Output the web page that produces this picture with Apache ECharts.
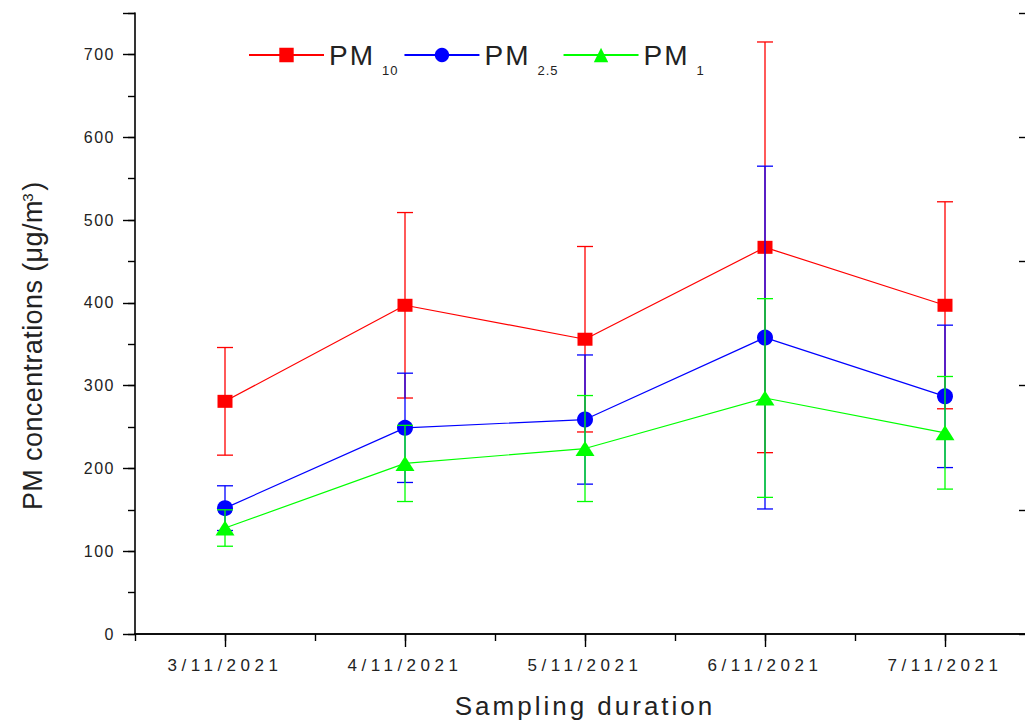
<!DOCTYPE html>
<html>
<head>
<meta charset="utf-8">
<script src="https://cdn.jsdelivr.net/npm/echarts@6/dist/echarts.min.js"></script>
<style>
html, body { margin: 0; padding: 0; background: #fff; overflow: hidden; }
#c { width: 1025px; height: 724px; }
#c text[style*="17px"] { letter-spacing: 4.5px; }
#c text[style*="16px"] { letter-spacing: 1.5px; }
#c text[style*="26px"] { letter-spacing: 3px; }
#c text[style*="28px"] { letter-spacing: 2px; }
#c text[style*="13px"] { letter-spacing: 1px; }
#c text[style*="27px"] { letter-spacing: 0.4px; }
</style>
</head>
<body>
<div id="c"></div>
<script>
// ---- data ----
const categories = ['3/11/2021', '4/11/2021', '5/11/2021', '6/11/2021', '7/11/2021'];
const seriesNames = ['PM10', 'PM2.5', 'PM1'];
const subscripts = ['10', '2.5', '1'];
const pm10 = [281, 397, 356, 467, 397];
const pm10Err = [65, 112, 112, 248, 125];
const pm25 = [152, 249, 259, 358, 287];
const pm25Err = [27, 66, 78, 207, 86];
const pm1 = [128, 206, 224, 285, 243];
const pm1Err = [22, 46, 64, 120, 68];
const yMin = 0, yMax = 750, yInterval = 100, yMinorInterval = 50, yRightInterval = 150;

const colors = ['#ff0000', '#0000ff', '#00ff00'];
const symbols = ['rect', 'circle', 'triangle'];
const symbolSizes = [[15, 13], 16, [19, 15]];
const values = [pm10, pm25, pm1];
const errors = [pm10Err, pm25Err, pm1Err];

const FONT = 'Liberation Sans';
const TXT = '#222';

function errRender(color) {
  return function (params, api) {
    const x = api.value(0);
    const lo = api.coord([x, api.value(1)]);
    const hi = api.coord([x, api.value(2)]);
    const hw = 8;
    const style = { stroke: color, lineWidth: 1.3, fill: null };
    return {
      type: 'group',
      children: [
        { type: 'line', shape: { x1: lo[0], y1: lo[1], x2: hi[0], y2: hi[1] }, style: style },
        { type: 'line', shape: { x1: lo[0] - hw, y1: lo[1], x2: lo[0] + hw, y2: lo[1] }, style: style },
        { type: 'line', shape: { x1: hi[0] - hw, y1: hi[1], x2: hi[0] + hw, y2: hi[1] }, style: style }
      ]
    };
  };
}

const series = [];
values.forEach(function (vals, k) {
  series.push({
    name: seriesNames[k] + ' err',
    type: 'custom',
    xAxisIndex: 0, yAxisIndex: 0,
    z: 2 + k * 2,
    renderItem: errRender(colors[k]),
    encode: { x: 0, y: [1, 2] },
    data: vals.map(function (v, i) { return [i, v - errors[k][i], v + errors[k][i]]; }),
    silent: true
  });
  series.push({
    name: seriesNames[k],
    type: 'line',
    xAxisIndex: 0, yAxisIndex: 0,
    z: 3 + k * 2,
    data: vals,
    symbol: symbols[k],
    symbolSize: symbolSizes[k],
    showAllSymbol: true,
    lineStyle: { color: colors[k], width: 1.2 },
    itemStyle: { color: colors[k] }
  });
});

const subRich = {};
subscripts.forEach(function (s, k) {
  subRich['s' + k] = {
    fontFamily: FONT, fontSize: 13, color: TXT,
    padding: [30, 0, 0, 0], verticalAlign: 'middle',
    width: [17, 20, 8][k]
  };
});
subRich.a = { fontFamily: FONT, fontSize: 28, color: TXT, verticalAlign: 'middle', width: 53 };

const option = {
  animation: false,
  backgroundColor: '#fff',
  grid: { left: 135, top: 13, width: 900, height: 621, containLabel: false, outerBoundsMode: 'none' },
  legend: {
    data: seriesNames,
    left: 248, top: 41, padding: 0,
    itemWidth: 75, itemHeight: 18, itemGap: 7,
    selectedMode: false,
    formatter: function (name) {
      const k = seriesNames.indexOf(name);
      return '{a|PM}{s' + k + '|' + subscripts[k] + '}';
    },
    textStyle: { rich: subRich }
  },
  xAxis: [
    {
      type: 'category', data: categories, position: 'bottom',
      boundaryGap: true,
      axisLine: { show: true, lineStyle: { color: '#000', width: 1.6 } },
      axisTick: { show: true, alignWithLabel: true, length: 13, lineStyle: { color: '#000', width: 1.4 } },
      axisLabel: { fontFamily: FONT, fontSize: 17, color: TXT, margin: 23 },
      splitLine: { show: false },
      name: 'Sampling duration', nameLocation: 'middle', nameGap: 59,
      nameTextStyle: { fontFamily: FONT, fontSize: 26, color: TXT }
    },
    {
      type: 'category', data: categories, position: 'bottom',
      boundaryGap: true,
      axisLine: { show: false },
      axisTick: { show: true, alignWithLabel: false, length: 7, lineStyle: { color: '#000', width: 1.4 } },
      axisLabel: { show: false },
      splitLine: { show: false }
    },
    {
      type: 'category', data: categories, position: 'top',
      boundaryGap: true,
      axisLine: { show: true, lineStyle: { color: '#000', width: 1.6 } },
      axisTick: { show: true, inside: true, alignWithLabel: true, length: 7, lineStyle: { color: '#000', width: 1.4 } },
      axisLabel: { show: false },
      splitLine: { show: false }
    }
  ],
  yAxis: [
    {
      type: 'value', position: 'left', min: yMin, max: yMax, interval: yInterval,
      axisLine: { show: true, lineStyle: { color: '#000', width: 1.6 } },
      axisTick: { show: true, length: 12, lineStyle: { color: '#000', width: 1.4 } },
      axisLabel: {
        fontFamily: FONT, fontSize: 16, color: TXT, margin: 20,
        formatter: function (v) { return v % yInterval === 0 ? String(v) : ''; }
      },
      splitLine: { show: false },
      name: '{a|PM concentrations (\u03bcg/m}{b|3}{a|)}',
      nameLocation: 'middle', nameGap: 89,
      nameTextStyle: {
        padding: [0, 40, 0, 0],
        rich: {
          a: { fontFamily: FONT, fontSize: 27, color: TXT, verticalAlign: 'middle' },
          b: { fontFamily: FONT, fontSize: 15, color: TXT, verticalAlign: 'middle', padding: [0, 3, 11, 3] }
        }
      }
    },
    {
      type: 'value', position: 'left', min: yMin, max: yMax, interval: yMinorInterval,
      axisLine: { show: false },
      axisTick: { show: true, length: 7, lineStyle: { color: '#000', width: 1.4 } },
      axisLabel: { show: false },
      splitLine: { show: false }
    },
    {
      type: 'value', position: 'right', min: yMin, max: yMax, interval: yRightInterval,
      axisLine: { show: true, lineStyle: { color: '#000', width: 1.6 } },
      axisTick: { show: true, inside: true, length: 16, lineStyle: { color: '#000', width: 1.4 } },
      axisLabel: { show: false },
      splitLine: { show: false }
    }
  ],
  series: series
};

const chart = echarts.init(document.getElementById('c'), null, { renderer: 'svg' });
chart.setOption(option);
</script>
</body>
</html>
